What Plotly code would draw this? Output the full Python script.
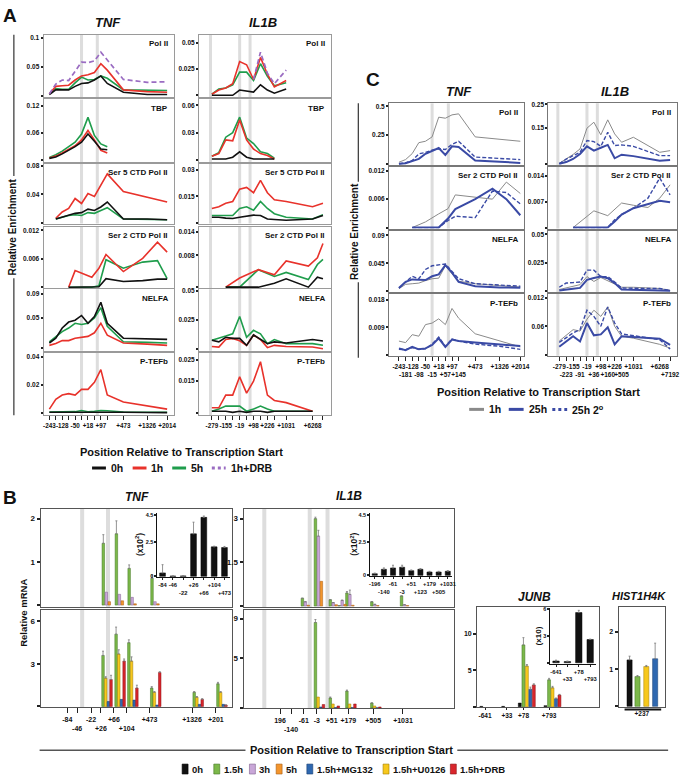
import plotly.graph_objects as go

W, H = 686, 780
FONT = "Liberation Sans, Arial, Helvetica, sans-serif"

# ---------------- Panel A / C probes ----------------
tnf_probes = ['-243', '-181', '-128', '-98', '-50', '-15', '+18', '+57', '+97', '+145', '+473', '+1326', '+2014']
tnf_slot = [0, 1, 2, 3, 4, 5, 6, 7, 8, 9, 11.5, 15.2, 18.3]
il1b_probes = ['-279', '-223', '-155', '-91', '-19', '+36', '+98', '+160', '+226', '+505', '+1031', '+6268', '+7192']
il1b_slot = [0, 1, 2, 3, 4, 5, 6, 7, 8, 9, 10.7, 14.5, 16]
tnf_a_labeled = ['-243', '-128', '-50', '+18', '+97', '+473', '+1326', '+2014']
il1b_a_labeled = ['-279', '-155', '-19', '+98', '+226', '+1031', '+6268']
tnf_c_row2 = ['-181', '-98', '-15', '+57', '+145']
il1b_c_row2 = ['-223', '-91', '+36', '+160', '+505', '+7192']
tnf_bands = [5.0, 7.45]
il1b_bands = [-0.2, 4.0, 5.5]

# ---------------- Panel A data (TNF) ----------------
a_tnf_pol2 = {
    '0h': [0.002, 0.010, 0.010, 0.010, 0.016, 0.021, 0.022, 0.027, 0.034, 0.021, 0.006, 0.002, 0.002],
    '1h': [0.003, 0.016, 0.017, 0.018, 0.027, 0.034, 0.036, 0.040, 0.055, 0.044, 0.010, 0.007, 0.006],
    '5h': [0.003, 0.012, 0.011, 0.011, 0.022, 0.032, 0.027, 0.028, 0.034, 0.030, 0.010, 0.009, 0.009],
    '1h+DRB': [0.003, 0.020, 0.027, 0.026, 0.042, 0.058, 0.057, 0.060, 0.075, 0.061, 0.028, 0.023, 0.024]}
a_tnf_tbp = {
    '0h': [0.004, 0.007, 0.014, 0.022, 0.030, 0.040, 0.058, 0.042, 0.025, 0.023],
    '1h': [0.005, 0.009, 0.016, 0.024, 0.032, 0.045, 0.066, 0.045, 0.022, 0.016],
    '5h': [0.006, 0.012, 0.020, 0.030, 0.040, 0.058, 0.095, 0.055, 0.036, 0.030]}
a_tnf_ser5 = {
    '0h': [0.005, 0.008, 0.010, 0.013, 0.014, 0.019, 0.017, 0.022, 0.029, 0.005, 0.005, 0.004],
    '1h': [0.006, 0.015, 0.020, 0.034, 0.027, 0.041, 0.037, 0.052, 0.069, 0.044, 0.036, 0.029],
    '5h': [0.005, 0.008, 0.010, 0.011, 0.010, 0.014, 0.013, 0.017, 0.021, 0.005, 0.004, 0.004]}
a_tnf_ser2_x = [3, 4, 6.6, 7.7, 8.8, 11.5, 14.5, 16.8, 18.3]
a_tnf_ser2 = {
    '0h': [0, 0, 0, 0.0001, 0.0018, 0.0012, 0.0014, 0.0017, 0.0017],
    '1h': [0, 0.0035, 0.0021, 0.0040, 0.0069, 0.0033, 0.0061, 0.0095, 0.0074],
    '5h': [0, 0, 0, 0.0003, 0.0058, 0.0040, 0.0053, 0.0056, 0.0018]}
a_tnf_nelfa = {
    '0h': [0.008, 0.016, 0.033, 0.043, 0.046, 0.054, 0.041, 0.052, 0.076, 0.041, 0.016, 0.015, 0.014],
    '1h': [0.004, 0.007, 0.012, 0.012, 0.016, 0.018, 0.019, 0.025, 0.041, 0.021, 0.008, 0.006, 0.004],
    '5h': [0.010, 0.018, 0.027, 0.033, 0.041, 0.039, 0.041, 0.050, 0.067, 0.036, 0.010, 0.009, 0.008]}
a_tnf_ptefb = {
    '0h': [0.0008, 0.0008, 0.001, 0.001, 0.0008, 0.001, 0.0008, 0.0012, 0.0012, 0.001, 0.0008, 0.0006, 0.0005],
    '1h': [0.003, 0.010, 0.013, 0.014, 0.013, 0.017, 0.017, 0.022, 0.031, 0.013, 0.008, 0.005, 0.003],
    '5h': [0.001, 0.001, 0.001, 0.001, 0.0012, 0.002, 0.0012, 0.0015, 0.002, 0.0018, 0.001, 0.0008, 0.0008]}

# ---------------- Panel A data (IL1B) ----------------
a_il1b_pol2 = {
    '0h': [0, 0, 0, 0, 0.005, 0.004, 0.003, 0.010, 0.005, 0.002, 0.006],
    '1h': [0.001, 0.005, 0.007, 0.011, 0.032, 0.029, 0.015, 0.036, 0.020, 0.008, 0.014],
    '5h': [0.001, 0.006, 0.007, 0.010, 0.022, 0.022, 0.014, 0.030, 0.018, 0.009, 0.012],
    '1h+DRB': [0.015, 0.041, 0.021, 0.011, 0.024]}
a_il1b_tbp = {
    '0h': [0.001, 0.001, 0.001, 0.003, 0.009, 0.003, 0.001, 0.001, 0.001, 0.001],
    '1h': [0.004, 0.007, 0.022, 0.021, 0.044, 0.022, 0.012, 0.007, 0.005, 0.001],
    '5h': [0.004, 0.008, 0.025, 0.030, 0.047, 0.024, 0.018, 0.009, 0.007, 0.002]}
a_il1b_ser5 = {
    '0h': [0.003, 0.003, 0.0025, 0.0023, 0.003, 0.0035, 0.0042, 0.004, 0.002, 0.0017, 0.0013, 0.002, 0.004],
    '1h': [0.008, 0.009, 0.011, 0.012, 0.019, 0.020, 0.017, 0.024, 0.017, 0.013, 0.012, 0.009, 0.011],
    '5h': [0.004, 0.004, 0.004, 0.004, 0.008, 0.009, 0.007, 0.012, 0.008, 0.005, 0.003, 0.002, 0.0045]}
a_il1b_ser2_x = [2, 4, 6.7, 9, 10.7, 13.9, 15.2, 16]
a_il1b_ser2 = {
    '0h': [0, 0, 0, 0.001, 0.0021, 0, 0.0025, 0.0021],
    '1h': [0, 0.0023, 0.0044, 0.0031, 0.0066, 0.0053, 0.0074, 0.011],
    '5h': [0, 0, 0.0044, 0.0027, 0.0037, 0.0019, 0.0057, 0.007]}
a_il1b_nelfa = {
    '0h': [0.0074, 0.006, 0.010, 0.009, 0.009, 0.003, 0.012, 0.008, 0.0044, 0.006, 0.005, 0.008, 0.0068],
    '1h': [0.002, 0.0015, 0.008, 0.009, 0.007, 0.003, 0.012, 0.008, 0.001, 0.003, 0.002, 0.0015, 0],
    '5h': [0.0074, 0.009, 0.011, 0.013, 0.028, 0.010, 0.016, 0.013, 0.0044, 0.008, 0.0044, 0.0045, 0.003]}
a_il1b_ptefb = {
    '0h': [0.001, 0.001, 0.001, 0.0005, 0.001, 0.0005, 0.001, 0.001, 0.0005, 0.001, 0.001, 0.001],
    '1h': [0.0026, 0.0026, 0.0085, 0.0085, 0.017, 0.0094, 0.015, 0.024, 0.0085, 0.006, 0.005, 0.001],
    '5h': [0.001, 0.002, 0.0034, 0.0034, 0.0034, 0.001, 0.002, 0.0034, 0.002, 0.001, 0.001, 0.001]}

# ---------------- Panel C data ----------------
c_tnf_pol2 = {
    '1h': [0.015, 0.038, 0.09, 0.185, 0.197, 0.235, 0.406, 0.397, 0.426, 0.435, 0.235, 0.215, 0.197],
    '25h': [0.002, 0.006, 0.025, 0.044, 0.088, 0.11, 0.138, 0.079, 0.153, 0.147, 0.03, 0.02, 0.009],
    '25h 2o': [0.001, 0.01, 0.03, 0.088, 0.1, 0.12, 0.132, 0.126, 0.17, 0.197, 0.06, 0.047, 0.038]}
c_tnf_ser2_x = [2, 4, 6, 7.4, 8.5, 11.5, 14.1, 16.2, 18.3]
c_tnf_ser2 = {
    '1h': [0, 0.0012, 0.0029, 0.004, 0.0069, 0.0065, 0.006, 0.0096, 0.0072],
    '25h': [0, 0, 0, 0.0019, 0.0039, 0.006, 0.0082, 0.006, 0.0026],
    '25h 2o': [0, 0, 0, 0.0015, 0.0024, 0.0021, 0.0077, 0.0074, 0.005]}
c_tnf_nelfa = {
    '1h': [0.004, 0.011, 0.012, 0.013, 0.017, 0.02, 0.021, 0.041, 0.028, 0.016, 0.012, 0.009, 0.0065],
    '25h': [0.005, 0.015, 0.019, 0.018, 0.018, 0.024, 0.027, 0.042, 0.03, 0.015, 0.008, 0.006, 0.0054],
    '25h 2o': [0.005, 0.014, 0.024, 0.02, 0.035, 0.041, 0.042, 0.044, 0.032, 0.02, 0.012, 0.01, 0.008]}
c_tnf_ptefb = {
    '1h': [0.0045, 0.004, 0.0066, 0.0061, 0.0099, 0.0104, 0.0118, 0.0099, 0.0152, 0.012, 0.0069, 0.0045, 0.0026],
    '25h': [0.0021, 0.0015, 0.0026, 0.0018, 0.0021, 0.0032, 0.0054, 0.0026, 0.005, 0.0045, 0.004, 0.0034, 0.0029],
    '25h 2o': [0.0018, 0.0017, 0.0024, 0.0018, 0.002, 0.0035, 0.0058, 0.0028, 0.0052, 0.0045, 0.0035, 0.0028, 0.0018]}
c_il1b_pol2 = {
    '1h': [0.003, 0.02, 0.04, 0.063, 0.15, 0.175, 0.122, 0.185, 0.126, 0.091, 0.112, 0.049, 0.056],
    '25h': [0.001, 0.008, 0.021, 0.042, 0.074, 0.056, 0.068, 0.08, 0.024, 0.039, 0.033, 0.014, 0.017],
    '25h 2o': [0.001, 0.02, 0.035, 0.049, 0.098, 0.094, 0.074, 0.133, 0.077, 0.08, 0.074, 0.035, 0.035]}
c_il1b_ser2_x = [2, 5, 7, 8, 9, 10.7, 12.8, 14.5, 16]
c_il1b_ser2 = {
    '1h': [0, 0.0045, 0.0032, 0.005, 0.0066, 0.006, 0.0054, 0.0079, 0.0115],
    '25h': [0, 0, 0, 0.0016, 0.0035, 0.0052, 0.0062, 0.0072, 0.0068],
    '25h 2o': [0, 0, 0, 0.0021, 0.0035, 0.0052, 0.0079, 0.0133, 0.0088]}
c_il1b_nelfa = {
    '1h': [0.0014, 0.003, 0.0045, 0.0057, 0.0128, 0.0085, 0.012, 0.009, 0.006, 0.0034, 0.0034, 0.0023, 0.0006],
    '25h': [0.0006, 0.001, 0.002, 0.0028, 0.0099, 0.0115, 0.0128, 0.0114, 0.0071, 0.0014, 0.001, 0.0006, 0.0003],
    '25h 2o': [0.0034, 0.0071, 0.0075, 0.008, 0.0185, 0.0185, 0.0128, 0.0128, 0.008, 0.0028, 0.0025, 0.0023, 0.0006]}
c_il1b_ptefb = {
    '1h': [0.0029, 0.0041, 0.0053, 0.005, 0.0075, 0.0094, 0.0081, 0.0101, 0.006, 0.0039, 0.0035, 0.0022, 0.0014],
    '25h': [0.0017, 0.0028, 0.0039, 0.0028, 0.0067, 0.0041, 0.0043, 0.0058, 0.0022, 0.0039, 0.0037, 0.0034, 0.0021],
    '25h 2o': [0.0026, 0.0036, 0.0046, 0.0053, 0.0094, 0.0081, 0.006, 0.0101, 0.0067, 0.0044, 0.004, 0.0032, 0.0012]}

# ---------------- Panel B data ----------------
tnf_b_probes = ['-84', '-46', '-22', '+26', '+66', '+104', '+473', '+1326', '+201']
tnf_b_pos = [9.0, 12.3, 17.0, 20.3, 24.7, 29.0, 36.7, 51.0, 59.0]
tnf_b_row2 = ['-46', '+26', '+104']
tnf_b_bands = [14.0, 22.7]
b_tnf_top_15h = [0, 0, 0, 1.43, 1.65, 0.85, 0.62, 0, 0]
b_tnf_top_15h_err = [0, 0, 0, 0.2, 0.3, 0.08, 0.08, 0, 0]
b_tnf_top_3h = [0, 0, 0, 0.30, 0.25, 0.18, 0.08, 0, 0]
b_tnf_top_5h = [0, 0, 0, 0.08, 0.10, 0.03, 0.03, 0, 0]
b_tnf_bot_15h = [0, 0, 0, 3.6, 5.1, 4.5, 1.3, 1.0, 1.6]
b_tnf_bot_15h_err = [0, 0, 0, 0.3, 0.5, 0.2, 0.1, 0.05, 0.1]
b_tnf_bot_u0126 = [0, 0, 0, 2.0, 3.7, 3.2, 1.0, 0.65, 1.0]
b_tnf_bot_u0126_err = [0, 0, 0, 0.1, 0.3, 0.3, 0.05, 0.05, 0.05]
b_tnf_bot_mg132 = [0, 0, 0, 0.35, 0.5, 0.45, 0.1, 0.15, 0.15]
b_tnf_bot_drb = [0, 0, 0, 1.9, 3.2, 1.3, 2.4, 0.5, 0.1]
b_tnf_bot_drb_err = [0, 0, 0, 0.3, 0.15, 0.2, 0.05, 0.05, 0]

il1b_b_probes = ['-196', '-140', '-61', '-3', '+51', '+123', '+179', '+505', '+1031']
il1b_b_ticktext = ['196', '-140', '-61', '-3', '+51', '', '+179', '+505', '+1031']
il1b_b_pos = [12.3, 16.0, 20.3, 24.7, 29.7, 32.7, 35.3, 43.7, 53.7]
il1b_b_row2 = ['-140']
il1b_b_bands = [7.0, 22.3, 28.3]
b_il1b_top_15h = [0, 0, 0.27, 3.0, 0.22, 0.02, 0.45, 0.15, 0.35]
b_il1b_top_15h_err = [0, 0, 0, 0.05, 0, 0, 0.05, 0, 0]
b_il1b_top_3h = [0, 0, 0.15, 2.4, 0.12, 0.2, 0.4, 0.06, 0.05]
b_il1b_top_3h_err = [0, 0, 0, 0.2, 0, 0, 0.15, 0, 0]
b_il1b_top_5h = [0, 0, 0.03, 0.85, 0.05, 0.06, 0.03, 0.02, 0.02]
b_il1b_bot_15h = [0, 0, 0, 8.6, 1.0, 0, 1.7, 0.5, 0]
b_il1b_bot_15h_err = [0, 0, 0, 0.3, 0.1, 0, 0.1, 0, 0]
b_il1b_bot_u0126 = [0, 0, 0, 1.1, 0.4, 0, 0.4, 0.2, 0]
b_il1b_bot_mg132 = [0, 0, 0, 0.1, 0.05, 0, 0.05, 0.02, 0]
b_il1b_bot_drb = [0, 0, 0, 0.35, 0.2, 0, 0.4, 0.1, 0]

tnf_inset_probes = ['-84', '-46', '-22', '+26', '+66', '+104', '+473']
tnf_inset_row2 = ['-22', '+66', '+473']
tnf_inset_0h = [0.25, 0.02, 0.03, 3.1, 4.3, 2.15, 2.1]
tnf_inset_0h_err = [0.6, 0, 0, 0.85, 0.1, 0.05, 0.08]
il1b_inset_row2 = ['-140', '-3', '+123', '+505']
il1b_inset_0h = [0.12, 0.45, 0.55, 0.6, 0.35, 0.45, 0.25, 0.25, 0.3]
il1b_inset_0h_err = [0.05, 0.1, 0.2, 0.15, 0.05, 0.05, 0.05, 0.05, 0.05]

junb_probes = ['-641', '+33', '+78', '+793']
junb_pos = [2.3, 8.6, 13.4, 20.8]
junb_0h = [0.05, 0.05, 0.5, 0.15]
junb_15h = [0, 0, 8.5, 3.7]
junb_15h_err = [0, 0, 1.0, 0.2]
junb_u0126 = [0, 0, 5.6, 2.6]
junb_u0126_err = [0, 0, 0.2, 0.2]
junb_mg132 = [0, 0, 2.4, 1.1]
junb_mg132_err = [0, 0, 0.3, 0.1]
junb_drb = [0, 0, 3.0, 1.6]
junb_drb_err = [0, 0, 0.15, 0.1]
junb_inset_row2 = ['+33', '+793']
junb_inset_0h = [0.2, 0.15, 5.6, 2.6]
junb_inset_0h_err = [0.1, 0.05, 0.25, 0.05]

hist_probe = ['+237']
hist_pos = [0]
hist_0h, hist_0h_err = [1.25], [0.1]
hist_15h, hist_15h_err = [0.8], [0.03]
hist_u0126, hist_u0126_err = [1.07], [0.03]
hist_mg132, hist_mg132_err = [1.28], [0.42]

# ---------------- helpers ----------------
fig = go.Figure()
lay = {}
shapes = []
anns = []
counter = [0]


def tfont(size, color='#111'):
    return dict(family=FONT, size=size, color=color, weight='bold')


def new_axes(box, xr, yr, xtv=None, xtt=None, ytv=None, ytt=None, line='#9a9a9a',
             mirror=True, xfs=6.3, yfs=6.5, xticklen=4, xtype='linear', ytl=2):
    counter[0] += 1
    n = counter[0]
    s = '' if n == 1 else str(n)
    x0, y0, x1, y1 = box
    xa = dict(domain=[x0 / W, x1 / W], anchor='y' + s, range=xr, type=xtype, showgrid=False,
              zeroline=False, showline=True, mirror=mirror, linecolor=line, linewidth=1, fixedrange=True)
    if xtv is None:
        xa.update(showticklabels=False, ticks='')
    else:
        xa.update(tickmode='array', tickvals=xtv, ticktext=xtt, ticks='outside', ticklen=xticklen,
                  tickwidth=1, tickcolor='#222', tickfont=tfont(xfs), tickangle=0)
    ya = dict(domain=[1 - y1 / H, 1 - y0 / H], anchor='x' + s, range=yr, showgrid=False,
              zeroline=False, showline=True, mirror=mirror, linecolor=line, linewidth=1, fixedrange=True)
    if ytv is None:
        ya.update(showticklabels=False, ticks='')
    else:
        ya.update(tickmode='array', tickvals=ytv, ticktext=ytt, ticks='outside', ticklen=ytl,
                  tickwidth=2, tickcolor='#222', tickfont=tfont(yfs))
    lay['xaxis' + s] = xa
    lay['yaxis' + s] = ya
    return 'x' + s, 'y' + s


def vband(xa, ya, xv, width=3, color='#dddddd'):
    shapes.append(dict(type='line', xref=xa, yref=ya + ' domain', x0=xv, x1=xv, y0=0, y1=1,
                       line=dict(color=color, width=width), layer='below'))


def ann(text, x, y, size=9, bold=True, italic=False, xanchor='center', yanchor='middle', angle=0, color='#111'):
    t = '<i>' + text + '</i>' if italic else text
    anns.append(dict(text=t, x=x / W, y=1 - y / H, xref='paper', yref='paper', showarrow=False,
                     xanchor=xanchor, yanchor=yanchor, textangle=angle,
                     font=dict(family=FONT, size=size, color=color, weight='bold' if bold else 'normal')))


def pline(x0, y0, x1, y1, color='#222', width=1, dash='solid'):
    shapes.append(dict(type='line', xref='paper', yref='paper', x0=x0 / W, y0=1 - y0 / H,
                       x1=x1 / W, y1=1 - y1 / H, line=dict(color=color, width=width, dash=dash)))


def prect(x0, y0, x1, y1, fill, edge):
    shapes.append(dict(type='rect', xref='paper', yref='paper', x0=x0 / W, y0=1 - y1 / H,
                       x1=x1 / W, y1=1 - y0 / H, fillcolor=fill, line=dict(color=edge, width=0.6)))


def add_line(xa, ya, x, y, style):
    color, width, dash = style
    fig.add_trace(go.Scatter(x=x, y=y, mode='lines', line=dict(color=color, width=width, dash=dash),
                             xaxis=xa, yaxis=ya, showlegend=False, hoverinfo='skip'))


B_COL = {'0h': ('#111111', '#000000'), '1.5h': ('#7cb84a', '#3f7420'), '3h': ('#c9a7d8', '#80608f'),
         '5h': ('#f3952d', '#a85d10'), '1.5h+MG132': ('#2f68b0', '#173e72'),
         '1.5h+U0126': ('#f7c81c', '#a07c00'), '1.5h+DRB': ('#d9262c', '#8a1014')}


def add_bars(xa, ya, x, y, key, offset, width, err=None):
    fill, edge = B_COL[key]
    yv = [v if v else None for v in y]
    e = None
    if err is not None:
        e = dict(type='data', array=err, arrayminus=[0] * len(err), symmetric=False,
                 color='#7a7a7a', thickness=0.8, width=1)
    fig.add_trace(go.Bar(x=x, y=yv, offset=offset, width=width,
                         marker=dict(color=fill, line=dict(color=edge, width=0.5)),
                         error_y=e, xaxis=xa, yaxis=ya, showlegend=False, hoverinfo='skip'))


# ---------------- Panel A ----------------
A_STYLE = {'0h': ('#111111', 1.6, 'solid'), '1h': ('#e8322b', 1.6, 'solid'),
           '5h': ('#1f9d4c', 1.6, 'solid'), '1h+DRB': ('#9a6cc2', 1.7, '5px,3px')}
A_ORDER = ['5h', '1h', '0h', '1h+DRB']
a_rows = [(32, 95), (97, 160), (162, 222), (225, 287), (288, 350), (352, 415)]

a_tnf_spec = [
    ('Pol II', a_tnf_pol2, tnf_slot, {}, [-0.003, 0.105], [0, 0.05, 0.1], ['', '0.05', '0.1']),
    ('TBP', a_tnf_tbp, tnf_slot[:10], {}, [-0.004, 0.135], [0, 0.06, 0.12], ['', '0.06', '0.12']),
    ('Ser 5 CTD Pol II', a_tnf_ser5, tnf_slot[1:], {}, [-0.0015, 0.083], [0, 0.04, 0.08], ['', '0.04', '0.08']),
    ('Ser 2 CTD Pol II', a_tnf_ser2, a_tnf_ser2_x, {}, [-0.0002, 0.0128], [0, 0.006, 0.012], ['', '0.006', '0.012']),
    ('NELFA', a_tnf_nelfa, tnf_slot, {}, [-0.005, 0.098], [0, 0.05, 0.09], ['', '0.05', '0.09']),
    ('P-TEFb', a_tnf_ptefb, tnf_slot, {}, [-0.0014, 0.043], [0, 0.02, 0.04], ['', '0.02', '0.04'])]
a_il1b_spec = [
    ('Pol II', a_il1b_pol2, il1b_slot[:11], {'1h+DRB': il1b_slot[6:11]}, [-0.002, 0.0575], [0, 0.025, 0.05], ['', '0.025', '0.05']),
    ('TBP', a_il1b_tbp, il1b_slot[:10], {}, [-0.0022, 0.0665], [0, 0.03, 0.06], ['', '0.03', '0.06']),
    ('Ser 5 CTD Pol II', a_il1b_ser5, il1b_slot, {}, [-0.0006, 0.0334], [0, 0.015, 0.03], ['', '0.015', '0.03']),
    ('Ser 2 CTD Pol II', a_il1b_ser2, a_il1b_ser2_x, {}, [-0.00025, 0.01525], [0, 0.008, 0.014], ['', '0.008', '0.014']),
    ('NELFA', a_il1b_nelfa, il1b_slot, {}, [-0.0017, 0.0517], [0, 0.025, 0.05], ['', '0.025', '0.05']),
    ('P-TEFb', a_il1b_ptefb, il1b_slot[:12], {}, [-0.0009, 0.0282], [0, 0.015, 0.025], ['', '0.015', '0.025'])]

for (x0, x1, xr, spec, slots, probes, labeled, bands) in [
        (43, 175, [-0.9, 19.4], a_tnf_spec, tnf_slot, tnf_probes, tnf_a_labeled, tnf_bands),
        (200, 333, [-1.86, 17.1], a_il1b_spec, il1b_slot, il1b_probes, il1b_a_labeled, il1b_bands)]:
    for i, (label, data, xdef, xover, yr, ytv, ytt) in enumerate(spec):
        y0, y1 = a_rows[i]
        last = i == len(spec) - 1
        xa, ya = new_axes((x0, y0, x1, y1), xr, yr,
                          xtv=slots if last else None,
                          xtt=[p if p in labeled else '' for p in probes] if last else None,
                          ytv=ytv, ytt=ytt)
        for b in bands:
            vband(xa, ya, b)
        for k in A_ORDER:
            if k in data:
                add_line(xa, ya, xover.get(k, xdef), data[k], A_STYLE[k])
        ann(label, x1 - 4, y0 + 9, size=8, xanchor='right')

ann('A', 9, 13, size=19)
ann('TNF', 108, 20, size=13, italic=True)
ann('IL1B', 265, 20, size=13, italic=True)
ann('Relative Enrichment', 12, 225, size=10, angle=-90)
pline(13, 32, 13, 174, '#333', 1.2)
pline(13, 277, 13, 415, '#333', 1.2)
ann('Position Relative to Transcription Start', 182, 452, size=11)
for (lx, txt, k) in [(92, '0h', '0h'), (133, '1h', '1h'), (173, '5h', '5h'), (213, '1h+DRB', '1h+DRB')]:
    c, w, d = A_STYLE[k]
    pline(lx, 468, lx + 14, 468, c, 3, 'dot' if k == '1h+DRB' else 'solid')
    ann(txt, lx + 17, 468, size=10.5, xanchor='left')

# ---------------- Panel C ----------------
C_STYLE = {'1h': ('#8a8a8a', 1.0, 'solid'), '25h': ('#3a4aa5', 2.0, 'solid'), '25h 2o': ('#3a4aa5', 1.4, '4px,2px')}
C_ORDER = ['1h', '25h 2o', '25h']
c_rows = [(101, 163), (165, 227), (229, 291), (293, 355)]
c_tnf_spec = [
    ('Pol II', c_tnf_pol2, tnf_slot, [-0.0086, 0.526], [0, 0.25, 0.5], ['', '0.25', '0.5']),
    ('Ser 2 CTD Pol II', c_tnf_ser2, c_tnf_ser2_x, [-0.0002, 0.0128], [0, 0.006, 0.012], ['', '0.006', '0.012']),
    ('NELFA', c_tnf_nelfa, tnf_slot, [-0.0016, 0.098], [0, 0.045, 0.09], ['', '0.045', '0.09']),
    ('P-TEFb', c_tnf_ptefb, tnf_slot, [-0.0003, 0.0199], [0, 0.009, 0.018], ['', '0.009', '0.018'])]
c_il1b_spec = [
    ('Pol II', c_il1b_pol2, il1b_slot, [-0.004, 0.254], [0, 0.15, 0.25], ['', '0.15', '0.25']),
    ('Ser 2 CTD Pol II', c_il1b_ser2, c_il1b_ser2_x, [-0.00026, 0.0163], [0, 0.007, 0.014], ['', '0.007', '0.014']),
    ('NELFA', c_il1b_nelfa, il1b_slot, [-0.0009, 0.0534], [0, 0.025, 0.05], ['', '0.025', '0.05']),
    ('P-TEFb', c_il1b_ptefb, il1b_slot, [-0.0002, 0.0128], [0, 0.006, 0.012], ['', '0.06', '0.012'])]

for (x0, x1, xr, spec, slots, probes, row2, bands) in [
        (392, 528, [-1.5, 18.8], c_tnf_spec, tnf_slot, tnf_probes, tnf_c_row2, tnf_bands),
        (553, 683, [-1.57, 17.0], c_il1b_spec, il1b_slot, il1b_probes, il1b_c_row2, il1b_bands)]:
    for i, (label, data, xdef, yr, ytv, ytt) in enumerate(spec):
        y0, y1 = c_rows[i]
        last = i == len(spec) - 1
        xa, ya = new_axes((x0, y0, x1, y1), xr, yr,
                          xtv=slots if last else None,
                          xtt=[('<br>' + p) if p in row2 else p for p in probes] if last else None,
                          ytv=ytv, ytt=ytt, xfs=6.5, line='#777')
        for b in bands:
            vband(xa, ya, b)
        for k in C_ORDER:
            add_line(xa, ya, xdef, data[k], C_STYLE[k])
        ann(label, x1 - 4, y0 + 9, size=8, xanchor='right')

ann('C', 376, 77, size=19)
ann('TNF', 463, 89, size=13, italic=True)
ann('IL1B', 620, 89, size=13, italic=True)
ann('Relative Enrichment', 357, 230, size=10, angle=-90)
pline(361, 101, 361, 180, '#333', 1.2)
pline(361, 281, 361, 357, '#333', 1.2)
ann('Position Relative to Transcription Start', 543, 392, size=11)
for (lx, txt, k) in [(473, '1h', '1h'), (513, '25h', '25h'), (557, '25h 2<sup>o</sup>', '25h 2o')]:
    c, w, d = C_STYLE[k]
    pline(lx, 409, lx + 15, 409, c, 3, 'dot' if k == '25h 2o' else 'solid')
    ann(txt, lx + 18, 409, size=10.5, xanchor='left')

# ---------------- Panel B ----------------
BW = 0.85
# TNF top
xa, ya = new_axes((40, 509, 233, 608), [0, 64.33], [-0.046, 2.23], ytv=[0, 1, 2], ytt=['', '1', '2'],
                  line='#555', yfs=8, ytl=3)
for b in tnf_b_bands:
    vband(xa, ya, b, width=4)
add_bars(xa, ya, tnf_b_pos, b_tnf_top_15h, '1.5h', 0.4, BW, b_tnf_top_15h_err)
add_bars(xa, ya, tnf_b_pos, b_tnf_top_3h, '3h', 1.4, BW)
add_bars(xa, ya, tnf_b_pos, b_tnf_top_5h, '5h', 2.4, BW)
# TNF bottom
xa, ya = new_axes((40, 611, 233, 709), [0, 64.33], [-0.07, 6.8], ytv=[0, 3, 6], ytt=['', '3', '6'],
                  xtv=tnf_b_pos, xtt=[('<br>' + p) if p in tnf_b_row2 else p for p in tnf_b_probes],
                  line='#555', yfs=8, xfs=7, xticklen=5, ytl=3)
for b in tnf_b_bands:
    vband(xa, ya, b, width=4)
add_bars(xa, ya, tnf_b_pos, b_tnf_bot_15h, '1.5h', 0.3, BW, b_tnf_bot_15h_err)
add_bars(xa, ya, tnf_b_pos, b_tnf_bot_u0126, '1.5h+U0126', 1.2, BW, b_tnf_bot_u0126_err)
add_bars(xa, ya, tnf_b_pos, b_tnf_bot_mg132, '1.5h+MG132', 2.1, BW)
add_bars(xa, ya, tnf_b_pos, b_tnf_bot_drb, '1.5h+DRB', 3.0, BW, b_tnf_bot_drb_err)
# TNF inset
xa, ya = new_axes((158, 513, 231, 578), [-0.5, 6.5], [-0.07, 4.64], xtype='category',
                  xtv=tnf_inset_probes, xtt=[('<br>' + p) if p in tnf_inset_row2 else p for p in tnf_inset_probes],
                  ytv=[0, 2.5, 4.5], ytt=['0', '2.5', '4.5'], line='#111', mirror=False, xfs=5.8, yfs=5.5,
                  xticklen=2)
add_bars(xa, ya, tnf_inset_probes, tnf_inset_0h, '0h', -0.28, 0.56, tnf_inset_0h_err)
ann('(x10<sup>2</sup>)', 140, 545, size=8.5, angle=-90)

# IL1B top
xa, ya = new_axes((245, 509, 458, 608), [0, 71], [-0.034, 3.34], ytv=[0, 1.5, 3], ytt=['', '1.5', '3'],
                  line='#555', yfs=8, ytl=3)
for b in il1b_b_bands:
    vband(xa, ya, b, width=4)
add_bars(xa, ya, il1b_b_pos, b_il1b_top_15h, '1.5h', -0.9, BW, b_il1b_top_15h_err)
add_bars(xa, ya, il1b_b_pos, b_il1b_top_3h, '3h', 0.1, BW, b_il1b_top_3h_err)
add_bars(xa, ya, il1b_b_pos, b_il1b_top_5h, '5h', 1.1, BW)
# IL1B bottom
il1b_tick_pos = [p for p, t in zip(il1b_b_pos, il1b_b_ticktext) if t]
il1b_tick_txt = [('<br>' + t) if t in il1b_b_row2 else t for t in il1b_b_ticktext if t]
xa, ya = new_axes((245, 611, 458, 710), [0, 71], [-0.05, 9.85], ytv=[0, 5, 9], ytt=['', '5', '9'],
                  xtv=il1b_tick_pos, xtt=il1b_tick_txt, line='#555', yfs=8, xfs=7, xticklen=5, ytl=3)
for b in il1b_b_bands:
    vband(xa, ya, b, width=4)
add_bars(xa, ya, il1b_b_pos, b_il1b_bot_15h, '1.5h', -0.9, BW, b_il1b_bot_15h_err)
add_bars(xa, ya, il1b_b_pos, b_il1b_bot_u0126, '1.5h+U0126', 0.0, BW)
add_bars(xa, ya, il1b_b_pos, b_il1b_bot_mg132, '1.5h+MG132', 0.9, BW)
add_bars(xa, ya, il1b_b_pos, b_il1b_bot_drb, '1.5h+DRB', 1.8, BW)
# IL1B inset
xa, ya = new_axes((373, 513, 456, 577), [-0.5, 8.5], [-0.07, 4.64], xtype='category',
                  xtv=il1b_b_probes, xtt=[('<br>' + p) if p in il1b_inset_row2 else p for p in il1b_b_probes],
                  ytv=[0, 2.5, 4.5], ytt=['0', '2.5', '4.5'], line='#111', mirror=False, xfs=5.8, yfs=5.5,
                  xticklen=2)
add_bars(xa, ya, il1b_b_probes, il1b_inset_0h, '0h', -0.28, 0.56, il1b_inset_0h_err)
ann('(x10<sup>2</sup>)', 357, 545, size=8.5, angle=-90)

# JUNB
xa, ya = new_axes((481, 608, 604, 709), [0, 35.14], [-0.1, 13.7], ytv=[0, 5, 10], ytt=['', '5', '10'],
                  xtv=junb_pos, xtt=junb_probes, line='#555', yfs=7, xfs=6.5, xticklen=2, ytl=3)
add_bars(xa, ya, junb_pos, junb_0h, '0h', -1.5, BW)
add_bars(xa, ya, junb_pos, junb_15h, '1.5h', -0.45, BW, junb_15h_err)
add_bars(xa, ya, junb_pos, junb_u0126, '1.5h+U0126', 0.55, BW, junb_u0126_err)
add_bars(xa, ya, junb_pos, junb_mg132, '1.5h+MG132', 1.55, BW, junb_mg132_err)
add_bars(xa, ya, junb_pos, junb_drb, '1.5h+DRB', 2.55, BW, junb_drb_err)
# JUNB inset
xa, ya = new_axes((555, 609, 601, 665), [-0.5, 3.5], [-0.1, 6.1], xtype='category',
                  xtv=junb_probes, xtt=[('<br>' + p) if p in junb_inset_row2 else p for p in junb_probes],
                  ytv=[0, 3, 6], ytt=['', '3', '6'], line='#111', mirror=False, xfs=5.8, yfs=5.5, xticklen=2)
add_bars(xa, ya, junb_probes, junb_inset_0h, '0h', -0.28, 0.56, junb_inset_0h_err)
ann('(x10)', 543, 637, size=8, angle=-90)

# HIST1H4K
xa, ya = new_axes((624, 608, 671, 709), [-0.5, 0.5], [-0.03, 2.67], ytv=[0, 1, 2], ytt=['', '1', '2'],
                  xtv=hist_pos, xtt=hist_probe, line='#555', yfs=7, xfs=6.5, xticklen=0, ytl=3)
add_bars(xa, ya, hist_pos, hist_0h, '0h', -0.32, 0.11, hist_0h_err)
add_bars(xa, ya, hist_pos, hist_15h, '1.5h', -0.15, 0.11, hist_15h_err)
add_bars(xa, ya, hist_pos, hist_u0126, '1.5h+U0126', 0.04, 0.11, hist_u0126_err)
add_bars(xa, ya, hist_pos, hist_mg132, '1.5h+MG132', 0.23, 0.11, hist_mg132_err)
pline(630, 711, 667, 711, '#111', 2)

ann('B', 9, 498, size=19)
ann('TNF', 137, 497, size=12, italic=True)
ann('IL1B', 352, 496, size=12, italic=True)
ann('JUNB', 539, 598, size=12, italic=True)
ann('HIST1H4K', 645, 597, size=11, italic=True)
ann('Relative mRNA', 22, 614, size=9.5, angle=-90)
pline(39, 752, 247, 752, '#555', 1.5)
pline(461, 752, 674, 752, '#555', 1.5)
ann('Position Relative to Transcription Start', 354, 752, size=11)
for (sx, txt, k) in [(183, '0h', '0h'), (215, '1.5h', '1.5h'), (251, '3h', '3h'), (278, '5h', '5h'),
                     (309, '1.5h+MG132', '1.5h+MG132'), (386, '1.5h+U0126', '1.5h+U0126'),
                     (454, '1.5h+DRB', '1.5h+DRB')]:
    fill, edge = B_COL[k]
    prect(sx, 766, sx + 6, 776, fill, edge)
    ann(txt, sx + 8, 771, size=9.5, xanchor='left')

fig.update_layout(width=W, height=H, margin=dict(l=0, r=0, t=0, b=0), autosize=False,
                  paper_bgcolor='white', plot_bgcolor='white', showlegend=False, barmode='overlay',
                  shapes=shapes, annotations=anns, font=dict(family=FONT), **lay)
fig.write_html('out.html', config={'displayModeBar': False, 'staticPlot': True},
               post_script="document.body.style.margin='0px';document.body.style.padding='0px';")
